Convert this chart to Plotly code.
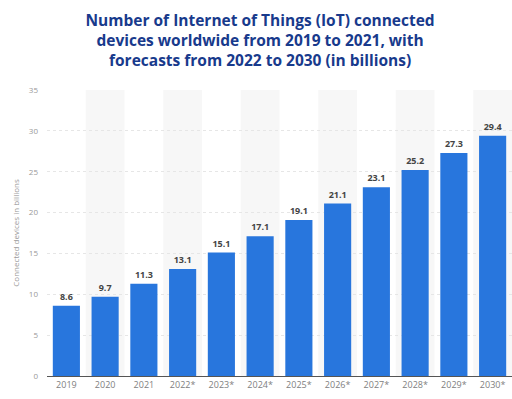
import plotly.graph_objects as go

categories = ["2019", "2020", "2021", "2022*", "2023*", "2024*", "2025*", "2026*", "2027*", "2028*", "2029*", "2030*"]
values = [8.6, 9.7, 11.3, 13.1, 15.1, 17.1, 19.1, 21.1, 23.1, 25.2, 27.3, 29.4]
y_ticks = [0, 5, 10, 15, 20, 25, 30, 35]

fig = go.Figure()
fig.add_trace(go.Bar(
    x=categories, y=values, width=0.7,
    marker=dict(color="#2876dd", line=dict(width=0)),
    text=[f"{v:.1f}" for v in values], textposition="outside",
    textfont=dict(family="Open Sans", size=9, color="#444444", weight="bold"),
    cliponaxis=False,
))

shapes = []
for i in range(1, len(categories), 2):
    shapes.append(dict(type="rect", xref="x", yref="y", x0=i - 0.5, x1=i + 0.5, y0=0, y1=35,
                       fillcolor="#f7f7f7", line=dict(width=0), layer="below"))
fig.update_layout(shapes=shapes)

fig.update_layout(
    width=512, height=399,
    margin=dict(l=47, r=0, t=90, b=23),
    paper_bgcolor="white", plot_bgcolor="white",
    showlegend=False,
    title=dict(
        text="Number of Internet of Things (IoT) connected<br>devices worldwide from 2019 to 2021, with<br>forecasts from 2022 to 2030 (in billions)",
        x=0.508, xanchor="center", y=0.935, yanchor="top",
        font=dict(family="Open Sans", size=15.5, color="#183a8c", weight="bold"),
    ),
    xaxis=dict(
        type="category", showgrid=False, showline=True, linecolor="#555555", linewidth=1,
        tickfont=dict(family="Open Sans", size=9, color="#808080"), ticks="",
    ),
    yaxis=dict(
        range=[0, 35], tickvals=y_ticks, showgrid=True, gridcolor="#e6e6e6", griddash="dot",
        zeroline=False, tickfont=dict(family="Open Sans", size=8, color="#999999"), ticks="",
        ticklabelstandoff=8,
        title=dict(text="Connected devices in billions", font=dict(family="Open Sans", size=8, color="#999999"), standoff=8),
    ),
)

fig.write_html("out.html", config={"displayModeBar": False}, post_script="document.body.style.margin='0';")
